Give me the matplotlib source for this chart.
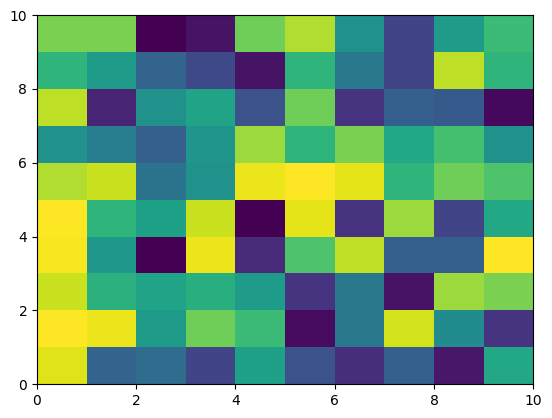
import matplotlib
matplotlib.use("Agg")
import matplotlib.pyplot as plt
import numpy as np

# rows listed from bottom (y=0) to top (y=9)
row0 = [0.95, 0.32, 0.35, 0.20, 0.57, 0.25, 0.13, 0.30, 0.06, 0.60]
row1 = [1.00, 0.97, 0.55, 0.78, 0.68, 0.03, 0.40, 0.93, 0.48, 0.15]
row2 = [0.92, 0.64, 0.58, 0.63, 0.55, 0.15, 0.40, 0.05, 0.85, 0.80]
row3 = [0.99, 0.53, 0.00, 0.97, 0.12, 0.72, 0.90, 0.30, 0.30, 1.00]
row4 = [1.00, 0.65, 0.57, 0.92, 0.00, 0.96, 0.15, 0.85, 0.20, 0.60]
row5 = [0.88, 0.92, 0.38, 0.50, 0.97, 1.00, 0.96, 0.65, 0.78, 0.72]
row6 = [0.50, 0.42, 0.30, 0.52, 0.85, 0.65, 0.80, 0.60, 0.70, 0.50]
row7 = [0.90, 0.10, 0.50, 0.58, 0.25, 0.78, 0.15, 0.30, 0.28, 0.02]
row8 = [0.65, 0.55, 0.32, 0.22, 0.05, 0.65, 0.40, 0.20, 0.90, 0.65]
row9 = [0.80, 0.80, 0.00, 0.05, 0.78, 0.88, 0.50, 0.20, 0.55, 0.68]

Z = np.array([row0, row1, row2, row3, row4, row5, row6, row7, row8, row9])

fig, ax = plt.subplots(figsize=(5.52, 4.18), dpi=100)
fig.subplots_adjust(left=0.067, right=0.966, top=0.964, bottom=0.081)
ax.pcolormesh(Z, cmap='viridis', vmin=0, vmax=1)
fig.savefig("out.png")
